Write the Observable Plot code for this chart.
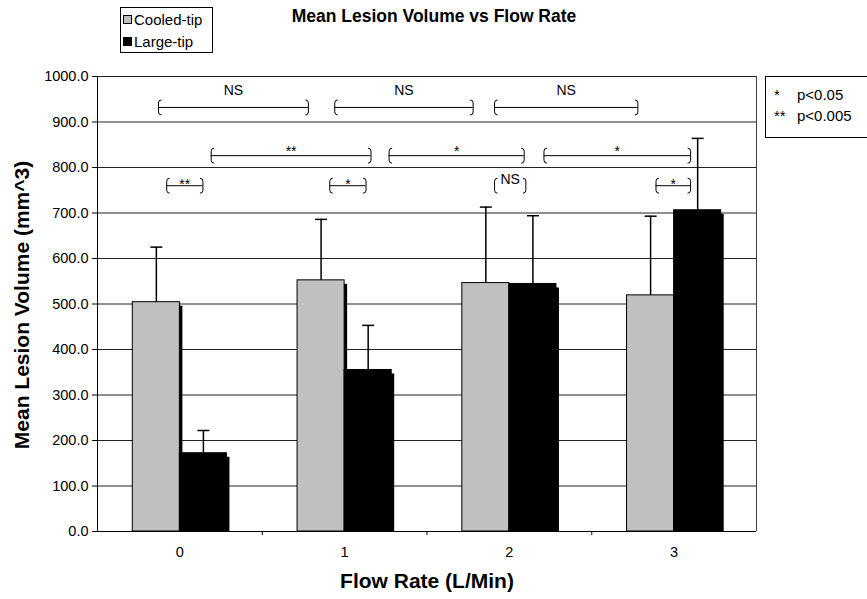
<!DOCTYPE html>
<html><head><meta charset="utf-8">
<script src="https://cdn.jsdelivr.net/npm/d3@7"></script>
<script src="https://cdn.jsdelivr.net/npm/@observablehq/plot@0.6"></script>
<style>
html,body{margin:0;padding:0;background:#fff;overflow:hidden;}
body{font-family:"Liberation Sans",Arial,sans-serif;color:#000;}
#wrap{position:relative;width:867px;height:599px;overflow:hidden;}
#wrap svg{position:absolute;left:0;top:0;}
.abs{position:absolute;white-space:nowrap;line-height:1;}
</style></head><body>
<div id="wrap"></div>
<script>
// ---- data ----
const flowRates = [0, 1, 2, 3];
const seriesNames = ["Cooled-tip", "Large-tip"];
const seriesColors = ["#c0c0c0", "#000000"];
const cooledMean = [504, 552, 546, 519];
const cooledSD = [121, 134, 167, 174];
const largeMean = [172, 355, 544, 706];
const largeSD = [50, 98, 150, 158];
const yTicks = [0, 100, 200, 300, 400, 500, 600, 700, 800, 900, 1000];
const categoryEdges = [0.5, 1.5, 2.5];
// significance brackets (x in flow-rate units)
const bracketFrom = [-0.13, 0.94, 1.91, 0.19, 1.27, 2.21, -0.08, 0.91, 1.91, 2.89];
const bracketTo   = [0.78, 1.78, 2.78, 1.16, 2.09, 3.10, 0.14, 1.13, 2.10, 3.10];
const bracketY    = [932, 932, 932, 826, 826, 826, 760, 760, 760, 760];
const bracketTier = [1, 1, 1, 2, 2, 2, 3, 3, 3, 3];
const bracketLabel = ["NS", "NS", "NS", "**", "*", "*", "**", "*", "NS", "*"];
const sigKeys = ["*", "**"];
const sigText = ["p<0.05", "p<0.005"];
const title = "Mean Lesion Volume vs Flow Rate";
const xTitle = "Flow Rate (L/Min)";
const yTitle = "Mean Lesion Volume (mm^3)";

// ---- derived tables ----
const gapWidth = 1.5;                 // Excel-style gap width
const barW = 1 / (seriesNames.length + gapWidth);
const bars = flowRates.flatMap((f, i) => [
  {flow: f, series: seriesNames[0], mean: cooledMean[i], sd: cooledSD[i], x1: f - barW, x2: f},
  {flow: f, series: seriesNames[1], mean: largeMean[i], sd: largeSD[i], x1: f, x2: f + barW}
]);
bars.forEach(d => { d.xc = (d.x1 + d.x2) / 2; d.top = d.mean + d.sd; });
const brackets = bracketLabel.map((label, i) => ({
  label, x1: bracketFrom[i], x2: bracketTo[i], y: bracketY[i], tier: bracketTier[i],
  xm: (bracketFrom[i] + bracketTo[i]) / 2
}));

// custom symbols
const capSymbol = {draw(ctx) { ctx.moveTo(-6, 0); ctx.lineTo(6, 0); }};
const leftBracket = {draw(ctx) {
  ctx.moveTo(3, -7.5); ctx.quadraticCurveTo(0, -7.5, 0, -4.5);
  ctx.lineTo(0, 4.5); ctx.quadraticCurveTo(0, 7.5, 3, 7.5);
}};
const rightBracket = {draw(ctx) {
  ctx.moveTo(-3, -7.5); ctx.quadraticCurveTo(0, -7.5, 0, -4.5);
  ctx.lineTo(0, 4.5); ctx.quadraticCurveTo(0, 7.5, -3, 7.5);
}};

const chart = Plot.plot({
  width: 867, height: 599,
  marginTop: 76, marginRight: 111, marginBottom: 68, marginLeft: 97,
  x: {domain: [-0.5, 3.5]},
  y: {domain: [0, 1000]},
  color: {domain: seriesNames, range: seriesColors},
  style: {fontFamily: "'Liberation Sans', Arial, sans-serif", fontSize: "14px", color: "#000", background: "transparent"},
  marks: [
    Plot.ruleY(yTicks, {stroke: "#222", strokeWidth: 1}),
    Plot.ruleX([3.5], {y1: 0, y2: 1000, stroke: "#444"}),
    // drop shadows
    Plot.rect(bars, {x1: "x1", x2: "x2", y1: 0, y2: "mean", fill: "#000", dx: 3, insetTop: 4}),
    // bars
    Plot.rect(bars, {x1: "x1", x2: "x2", y1: 0, y2: "mean", fill: "series", stroke: "#000", strokeWidth: 1}),
    // error bars
    Plot.ruleX(bars, {x: "xc", y1: "mean", y2: "top", stroke: "#000", strokeWidth: 1.5}),
    Plot.dot(bars, {x: "xc", y: "top", symbol: capSymbol, r: 3, fill: "none", stroke: "#000", strokeWidth: 1.5}),
    // significance brackets
    Plot.ruleY(brackets.filter(d => !(d.tier === 3 && d.label === "NS")), {x1: "x1", x2: "x2", y: "y", stroke: "#000", strokeWidth: 1}),
    Plot.dot(brackets, {x: "x1", y: "y", symbol: leftBracket, r: 3, fill: "none", stroke: "#000", strokeWidth: 1}),
    Plot.dot(brackets, {x: "x2", y: "y", symbol: rightBracket, r: 3, fill: "none", stroke: "#000", strokeWidth: 1}),
    Plot.text(brackets.filter(d => d.tier === 1), {x: "xm", y: "y", text: "label", lineAnchor: "bottom", dy: -12, fontSize: 14}),
    Plot.text(brackets.filter(d => d.tier === 2), {x: "xm", y: "y", text: "label", lineAnchor: "bottom", dy: 0, fontSize: 14}),
    Plot.text(brackets.filter(d => d.tier === 3 && d.label !== "NS"), {x: "xm", y: "y", text: "label", lineAnchor: "bottom", dy: 3, fontSize: 14}),
    Plot.text(brackets.filter(d => d.tier === 3 && d.label === "NS"), {x: "xm", y: "y", text: "label", lineAnchor: "bottom", dy: -2, fontSize: 14}),
    // axes
    Plot.axisY({ticks: yTicks, tickFormat: d3.format(".1f"), tickSize: 5, tickPadding: 4, label: null, fontSize: 14.5}),
    Plot.axisX({ticks: flowRates, tickFormat: d3.format("d"), tickSize: 0, tickPadding: 15, label: null, fontSize: 14.5}),
    Plot.axisX({ticks: categoryEdges, tickFormat: () => "", tickSize: 4, label: null}),
    Plot.ruleX([-0.5], {y1: 0, y2: 1000, stroke: "#000"}),
    Plot.ruleY([0], {stroke: "#000"})
  ]
});

const wrap = document.getElementById("wrap");
wrap.appendChild(chart);

function addDiv(html, style) {
  const d = document.createElement("div");
  d.className = "abs";
  d.innerHTML = html;
  Object.assign(d.style, style);
  wrap.appendChild(d);
  return d;
}
// chart title
addDiv(title, {left: "434px", top: "17px", transform: "translate(-50%,-50%)", fontWeight: "bold", fontSize: "17.5px"});
// axis titles
addDiv(xTitle, {left: "427px", top: "580px", transform: "translate(-50%,-50%)", fontWeight: "bold", fontSize: "21px"});
addDiv(yTitle, {left: "21px", top: "305px", transform: "translate(-50%,-50%) rotate(-90deg)", fontWeight: "bold", fontSize: "21px"});

// series legend
const leg = addDiv("", {left: "120px", top: "7px", width: "93px", height: "46px", border: "1px solid #000", boxSizing: "border-box", background: "#fff"});
seriesNames.forEach((name, i) => {
  const row = document.createElement("div");
  Object.assign(row.style, {position: "absolute", left: "2px", top: (3 + i * 22) + "px", fontSize: "15px", lineHeight: "17px", display: "flex", alignItems: "center"});
  row.innerHTML = `<span style="display:inline-block;width:7px;height:7px;border:1px solid #000;background:${seriesColors[i]};margin-right:2px"></span>${name}`;
  leg.appendChild(row);
});

// significance key
const key = addDiv("", {left: "765px", top: "76px", width: "120px", height: "62px", border: "1px solid #000", boxSizing: "border-box", background: "#fff"});
sigKeys.forEach((k, i) => {
  const row = document.createElement("div");
  Object.assign(row.style, {position: "absolute", left: "8px", top: (9 + i * 21) + "px", fontSize: "15px", lineHeight: "17px"});
  row.innerHTML = `<span style="display:inline-block;width:23px">${k}</span>${sigText[i]}`;
  key.appendChild(row);
});
</script>
</body></html>
